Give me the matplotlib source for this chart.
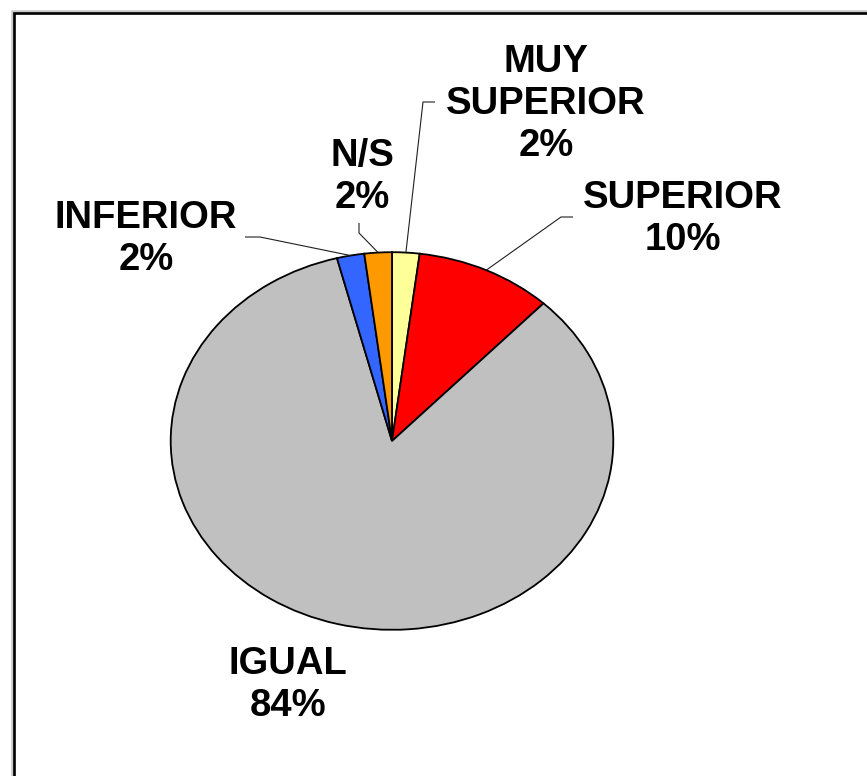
import numpy as np
import matplotlib.pyplot as plt
from matplotlib.patches import Rectangle

# data
labels = ["MUY\nSUPERIOR", "SUPERIOR", "IGUAL", "INFERIOR", "N/S"]
values = [2, 10, 84, 2, 2]
colors = ["#FFFF99", "#FF0000", "#C0C0C0", "#3366FF", "#FF9900"]

W, H = 867, 776
# pie ellipse in pixels (centre and radii)
cx, cy, rx, ry = 392, 441, 221.3, 188.8


def px(x, y):
    """pixel position -> data coords of the (elliptical) pie axes"""
    return (x - cx) / rx, (cy - y) / ry


# label block centre, elbow of leader, end of leader (pixels); None = no leader
label_pos = [(546, 104), (683, 219), (288, 685), (146, 239), (362, 177)]
elbows = [[(423, 102), (435, 102)],
          [(561, 217), (573, 217)],
          None,
          [(260, 237), (245, 237)],
          [(359, 233), (359, 223)]]

fig = plt.figure(figsize=(W / 100, H / 100), dpi=100)
ax = fig.add_axes([0, 0, 1, 1])
ax.set_axis_off()

wedges, _ = ax.pie(values, colors=colors, startangle=90, counterclock=False,
                   radius=1, center=(0, 0),
                   wedgeprops=dict(edgecolor="black", linewidth=1.3))
ax.set_aspect("auto")
x0, y0 = px(0, H)
x1, y1 = px(W, 0)
ax.set_xlim(x0, x1)
ax.set_ylim(y0, y1)

pct = [round(100 * v / sum(values)) for v in values]
for w, lab, p, pos, elb in zip(wedges, labels, pct, label_pos, elbows):
    tx, ty = px(*pos)
    ax.text(tx, ty, "%s\n%d%%" % (lab, p), ha="center", va="center",
            fontsize=27.5, fontweight="bold", family="Liberation Sans",
            linespacing=1.22)
    if elb is None:
        continue
    mid = np.deg2rad((w.theta1 + w.theta2) / 2)
    xs = [np.cos(mid)] + [px(*e)[0] for e in elb]
    ys = [np.sin(mid)] + [px(*e)[1] for e in elb]
    ax.plot(xs, ys, color="#202020", lw=0.8, solid_capstyle="butt")

# chart frame (only top and left edges inside the image)
fig.patches.append(Rectangle((13 / W, -0.1), 1.2, (H - 12) / H + 0.1,
                             transform=fig.transFigure, fill=False,
                             edgecolor="#C8C8C8", lw=2.6))
fig.patches.append(Rectangle((14.3 / W, -0.1), 1.2, (H - 12.5) / H + 0.1,
                             transform=fig.transFigure, fill=False,
                             edgecolor="black", lw=1.9))

fig.savefig("out.png", dpi=100, facecolor="white")
